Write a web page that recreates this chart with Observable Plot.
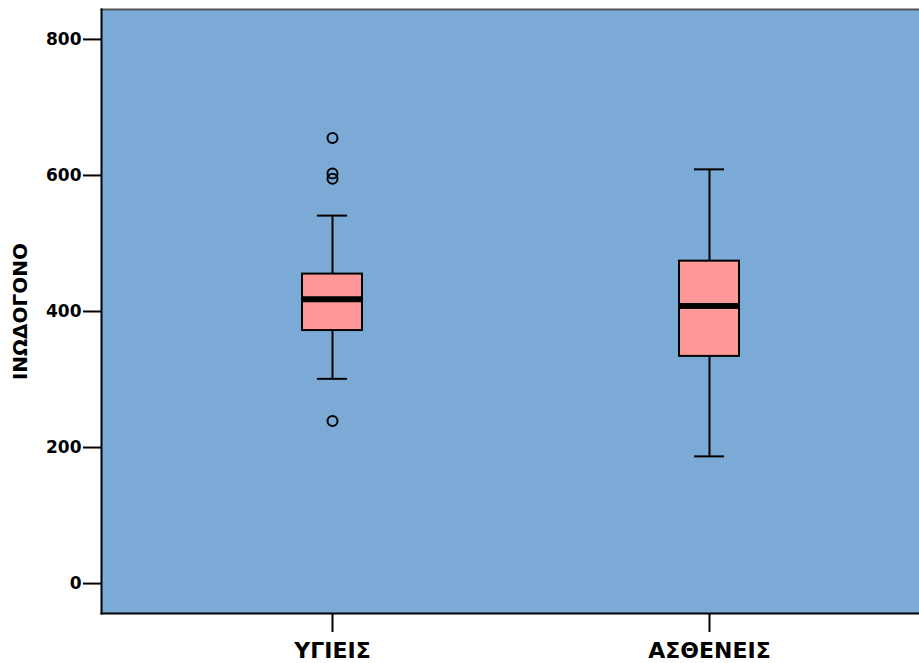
<!DOCTYPE html>
<html><head><meta charset="utf-8">
<script src="https://cdn.jsdelivr.net/npm/d3@7"></script>
<script src="https://cdn.jsdelivr.net/npm/@observablehq/plot@0.6"></script>
<style>body{margin:0;background:#fff}</style>
</head><body><div id="chart"></div>
<script>
const groups = ["ΥΓΙΕΙΣ", "ΑΣΘΕΝΕΙΣ"];
const lowerWhisker = [301, 187];
const q1 = [372, 334];
const median = [418, 408];
const q3 = [455, 474];
const upperWhisker = [541, 609];
const outlierGroup = ["ΥΓΙΕΙΣ", "ΥΓΙΕΙΣ", "ΥΓΙΕΙΣ", "ΥΓΙΕΙΣ"];
const outlierValue = [655, 603, 595, 239];
const yTicks = [0, 200, 400, 600, 800];
const yLabel = "ΙΝΩΔΟΓΟΝΟ";

const stats = groups.map((g, i) => ({group: g, lo: lowerWhisker[i], q1: q1[i], med: median[i], q3: q3[i], hi: upperWhisker[i]}));
const outliers = outlierGroup.map((g, i) => ({group: g, value: outlierValue[i]}));

const chart = Plot.plot({
  width: 919, height: 663,
  marginLeft: 101, marginRight: 0, marginTop: 9, marginBottom: 50,
  style: {fontFamily: "'DejaVu Sans', sans-serif", fontWeight: "bold", fontSize: "16px", color: "#000", background: "#fff"},
  x: {type: "band", domain: groups, range: [101, 940], paddingInner: 0.8408, paddingOuter: 0.533, label: null},
  y: {domain: [-44, 844], label: null},
  marks: [
    Plot.frame({fill: "#7BAAD6", stroke: null}),
    Plot.frame({anchor: "top", stroke: "#555", strokeWidth: 2}),
    Plot.frame({anchor: "left", stroke: "#000", strokeWidth: 2}),
    Plot.frame({anchor: "bottom", stroke: "#000", strokeWidth: 2}),
    Plot.ruleX(stats, {x: "group", y1: "lo", y2: "q1", stroke: "#000", strokeWidth: 2}),
    Plot.ruleX(stats, {x: "group", y1: "q3", y2: "hi", stroke: "#000", strokeWidth: 2}),
    Plot.tickY(stats, {x: "group", y: "lo", insetLeft: 15, insetRight: 15, stroke: "#000", strokeWidth: 2}),
    Plot.tickY(stats, {x: "group", y: "hi", insetLeft: 15, insetRight: 15, stroke: "#000", strokeWidth: 2}),
    Plot.barY(stats, {x: "group", y1: "q1", y2: "q3", fill: "#FF9999", stroke: "#000", strokeWidth: 2}),
    Plot.tickY(stats, {x: "group", y: "med", stroke: "#000", strokeWidth: 6}),
    Plot.dot(outliers, {x: "group", y: "value", r: 5, stroke: "#000", strokeWidth: 2, fill: "none"}),
    Plot.axisY({ticks: yTicks, tickSize: 18, tickPadding: 2, strokeWidth: 2, label: null, fontSize: 17}),
    Plot.axisX({tickSize: 19, tickPadding: 10, strokeWidth: 2, label: null, fontSize: 22}),
    Plot.text([yLabel], {frameAnchor: "left", textAnchor: "middle", dx: -81, rotate: -90, text: d => d, fontSize: 20, fontWeight: "bold", fill: "#000"})
  ]
});
document.getElementById("chart").appendChild(chart);
</script>
</body></html>
